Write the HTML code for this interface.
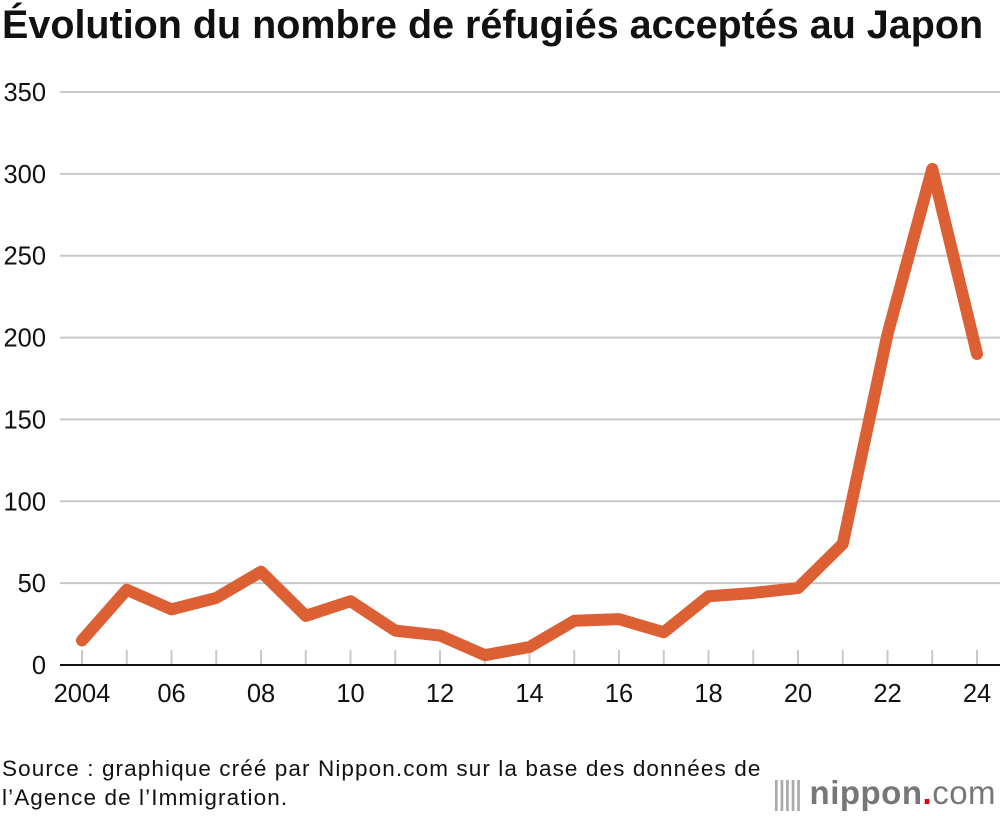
<!DOCTYPE html>
<html><head><meta charset="utf-8"><style>
body{margin:0;background:#fff;font-family:"Liberation Sans",sans-serif;}
#wrap{position:relative;width:1000px;height:816px;overflow:hidden}
h1{position:absolute;left:2px;top:3px;margin:0;font-size:39.5px;font-weight:bold;letter-spacing:0px;color:#111;white-space:nowrap}
.src{position:absolute;left:2px;top:754px;font-size:22.5px;letter-spacing:1.1px;line-height:29px;color:#111;white-space:nowrap}
.logo{position:absolute;left:772px;top:774px;font-size:33px;color:#777;font-weight:bold;letter-spacing:0.5px}
</style></head><body>
<div id="wrap">
<h1>Évolution du nombre de réfugiés acceptés au Japon</h1>
<svg id="c" width="1000" height="816" style="position:absolute;left:0;top:0"></svg>
<div class="src">Source : graphique créé par Nippon.com sur la base des données de<br>l’Agence de l’Immigration.</div>
<div class="logo"><span style="font-weight:normal;letter-spacing:-3px;color:#aaa">|||||</span> nippon<span style="color:#e60012">.</span><span style="font-weight:normal">com</span></div>
</div>
<script>
const years=[2004,2005,2006,2007,2008,2009,2010,2011,2012,2013,2014,2015,2016,2017,2018,2019,2020,2021,2022,2023,2024];
const values=[15,46,34,41,57,30,39,21,18,6,11,27,28,20,42,44,47,74,202,303,190];
const yTicks=[0,50,100,150,200,250,300,350];
const xLabels={2004:"2004",2006:"06",2008:"08",2010:"10",2012:"12",2014:"14",2016:"16",2018:"18",2020:"20",2022:"22",2024:"24"};
const svg=document.getElementById('c');
const NS="http://www.w3.org/2000/svg";
const x=v=>82+(v-2004)*44.75;
const y=v=>665-v*(573/350);
function mk(t,a){const e=document.createElementNS(NS,t);for(const k in a)e.setAttribute(k,a[k]);svg.appendChild(e);return e;}
yTicks.forEach(t=>{
 if(t>0){const g=mk('line',{x1:60,x2:1000,y1:y(t),y2:y(t),stroke:'#c8c8c8','stroke-width':2});
 
 }
 const l=mk('text',{x:46,y:y(t)+9,'text-anchor':'end','font-size':25.5,fill:'#111','font-family':'Liberation Sans'});
 l.textContent=t;
 
 
});
years.forEach(yr=>{
 const tk=mk('line',{x1:x(yr),x2:x(yr),y1:650,y2:665,stroke:'#c8c8c8','stroke-width':2});
 
 
 if(xLabels[yr]){const l=mk('text',{x:x(yr),y:702,'text-anchor':'middle','font-size':25.5,fill:'#111','font-family':'Liberation Sans'});
 l.textContent=xLabels[yr];
 
 }
});
const ax=mk('line',{x1:60,x2:1000,y1:665,y2:665,stroke:'#111','stroke-width':2});


const p=mk('polyline',{points:years.map((yr,i)=>x(yr)+','+y(values[i])).join(' '),fill:'none',stroke:'#dc6034','stroke-width':12,'stroke-linejoin':'round','stroke-linecap':'round'});


</script>
</body></html>
